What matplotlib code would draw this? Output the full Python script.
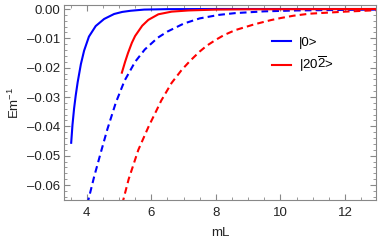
import matplotlib
matplotlib.use("Agg")
import matplotlib.pyplot as plt
from matplotlib.ticker import MultipleLocator, FuncFormatter

plt.rcParams['font.family'] = ['Liberation Sans', 'DejaVu Sans']
plt.rcParams['mathtext.fontset'] = 'custom'
plt.rcParams['mathtext.rm'] = 'Liberation Sans'
plt.rcParams['mathtext.it'] = 'Liberation Sans'
plt.rcParams['mathtext.bf'] = 'Liberation Sans'

# Data
blue_solid_x = [3.52, 3.56, 3.61, 3.66, 3.72, 3.82, 3.92, 4.07, 4.28, 4.54, 4.85, 5.1, 5.36, 5.78, 6.5, 8.0, 13.0]
blue_solid_y = [-0.0456, -0.0395, -0.0339, -0.0295, -0.0250, -0.0188, -0.0142, -0.0094, -0.0058, -0.0034,
                -0.0017, -0.0010, -0.0006, -0.0002, -0.00005, 0.0, 0.0]

blue_dash_x = [4.02, 4.23, 4.43, 4.64, 4.9, 5.17, 5.5, 5.8, 6.2, 6.5, 7.0, 7.5, 8.1, 8.6, 9.5, 10.5, 12.0, 13.0]
blue_dash_y = [-0.0665, -0.0572, -0.0492, -0.0410, -0.0320, -0.0245, -0.0180, -0.0138, -0.0098, -0.0077,
               -0.0050, -0.0032, -0.0020, -0.0014, -0.0008, -0.0005, -0.0003, -0.0002]

red_solid_x = [5.09, 5.19, 5.28, 5.4, 5.5, 5.72, 5.91, 6.22, 6.63, 7.15, 8.0, 9.0, 13.0]
red_solid_y = [-0.0217, -0.0180, -0.0150, -0.0115, -0.0092, -0.0057, -0.0037, -0.0018, -0.0009, -0.0005,
               -0.0002, -0.0001, 0.0]

red_dash_x = [5.1, 5.3, 5.6, 5.92, 6.17, 6.31, 6.63, 6.94, 7.2, 7.5, 7.72, 8.0, 8.25, 8.6, 9.2, 9.7, 10.0,
              10.4, 10.9, 12.0, 13.0]
red_dash_y = [-0.0665, -0.0580, -0.0480, -0.0400, -0.0344, -0.0312, -0.0252, -0.0208, -0.0177, -0.0145,
               -0.0125, -0.0105, -0.0089, -0.0072, -0.0052, -0.0038, -0.0031, -0.0023, -0.0016, -0.0009,
              -0.0004]

labels = ["|0>", "|20$\\overline{2}$>"]

fig = plt.figure(figsize=(3.82, 2.49), dpi=100)
ax = fig.add_axes([0.1675, 0.1968, 0.8165, 0.7819])

lw = 1.5
ax.plot(blue_dash_x, blue_dash_y, color='#0000ff', lw=lw, ls=(0, (3.2, 2.0)))
ax.plot(red_dash_x, red_dash_y, color='#ff0000', lw=lw, ls=(0, (3.2, 2.0)))
l1, = ax.plot(blue_solid_x, blue_solid_y, color='#0000ff', lw=lw)
l2, = ax.plot(red_solid_x, red_solid_y, color='#ff0000', lw=lw)

ax.set_xlim(3.297, 12.957)
ax.set_ylim(-0.0651, 0.00126)

ax.xaxis.set_major_locator(MultipleLocator(2))
ax.xaxis.set_minor_locator(MultipleLocator(0.5))
ax.yaxis.set_major_locator(MultipleLocator(0.01))
ax.yaxis.set_minor_locator(MultipleLocator(0.002))
ax.yaxis.set_major_formatter(FuncFormatter(
    lambda v, p: ("%.2f" % v).replace('-', '\u2013') if abs(v) > 1e-9 else "0.00"))

for s in ax.spines.values():
    s.set_color('#888888')
    s.set_linewidth(0.8)
ax.tick_params(which='both', direction='in', top=True, right=True, color='#888888', labelsize=9.5,
               labelcolor='#222222')
ax.tick_params(which='major', length=4, width=0.8)
ax.tick_params(which='minor', length=2.2, width=0.6)
ax.tick_params(axis='x', pad=5)
ax.tick_params(axis='y', pad=3)

ax.set_xlabel("mL", fontsize=9.5, color='#222222', labelpad=6)
ax.set_ylabel("Em$^{-1}$", fontsize=9.5, color='#222222', labelpad=3)

ax.legend([l1, l2], labels, loc='upper left', bbox_to_anchor=(0.65, 0.865), frameon=False, fontsize=9.5,
          handlelength=1.45, handletextpad=0.6, labelspacing=0.45, borderaxespad=0)

fig.savefig("out.png", dpi=100)
